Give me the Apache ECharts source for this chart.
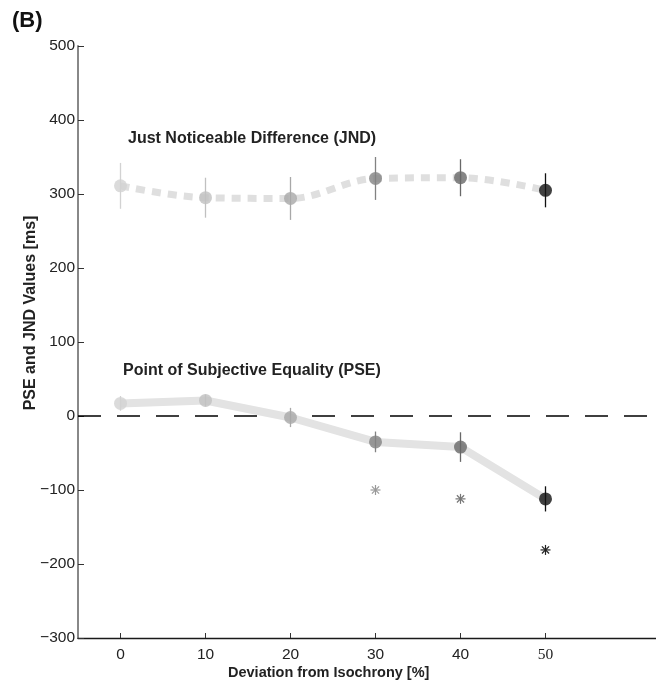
<!doctype html>
<html>
<head>
    <meta charset="utf-8">
    <title>PSE and JND</title>
    <script src="https://cdn.jsdelivr.net/npm/echarts@6/dist/echarts.min.js"></script>
    <style>
        html, body { margin: 0; padding: 0; background: #fff; }
        #main { width: 656px; height: 683px; }
    </style>
</head>
<body>
    <div id="main"></div>
    <script type="text/javascript">
        // deviation from isochrony [%]
        var deviation = [0, 10, 20, 30, 40, 50];
        // JND means and half error bars
        var jndMean = [311, 295, 294, 321, 322, 305];
        var jndErr = [31, 27, 29, 29, 25, 23];
        // PSE means and half error bars
        var pseMean = [17, 21, -2, -35, -42, -112];
        var pseErr = [10, 8, 13, 14, 20, 17];
        // significance asterisks (x, y)
        var starX = [30, 40, 50];
        var starY = [-100, -112, -181];
        // dashed reference line at 0
        var zeroX = [-5, 63];
        var zeroY = [0, 0];

        var shade = ['#d2d2d2', '#c0c0c0', '#a8a8a8', '#828282', '#686868', '#111111'];
        var starShade = ['#999999', '#777777', '#222222'];

        function pairs(xs, ys) {
            return xs.map(function (x, i) { return [x, ys[i]]; });
        }
        function bars(mean, err) {
            return deviation.map(function (x, i) { return [x, mean[i] - err[i], mean[i] + err[i]]; });
        }
        function dots(mean) {
            return deviation.map(function (x, i) {
                return { value: [x, mean[i]], itemStyle: { color: shade[i] } };
            });
        }

        function errRender(params, api) {
            var lo = api.coord([api.value(0), api.value(1)]);
            var hi = api.coord([api.value(0), api.value(2)]);
            return {
                type: 'line',
                shape: { x1: lo[0], y1: lo[1], x2: hi[0], y2: hi[1] },
                style: { stroke: shade[params.dataIndex], lineWidth: 1.3 }
            };
        }

        function starRender(params, api) {
            var c = api.coord([api.value(0), api.value(1)]);
            var r = 5, d = 3.6;
            var col = starShade[params.dataIndex];
            var st = { stroke: col, lineWidth: 1.2 };
            return {
                type: 'group',
                children: [
                    { type: 'line', shape: { x1: c[0], y1: c[1] - r, x2: c[0], y2: c[1] + r }, style: st },
                    { type: 'line', shape: { x1: c[0] - r, y1: c[1], x2: c[0] + r, y2: c[1] }, style: st },
                    { type: 'line', shape: { x1: c[0] - d, y1: c[1] - d, x2: c[0] + d, y2: c[1] + d }, style: st },
                    { type: 'line', shape: { x1: c[0] - d, y1: c[1] + d, x2: c[0] + d, y2: c[1] - d }, style: st }
                ]
            };
        }

        var myChart = echarts.init(document.getElementById('main'));
        var font = 'Liberation Sans, Arial, sans-serif';
        var option = {
            animation: false,
            textStyle: { fontFamily: font },
            grid: { left: 78, right: 0, top: 46, bottom: 45 },
            xAxis: {
                type: 'value',
                min: -5,
                max: 63,
                interval: 5,
                axisLine: { onZero: false, lineStyle: { color: '#1a1a1a', width: 1.3 } },
                axisTick: {
                    inside: true, length: 5,
                    lineStyle: { color: '#333', width: 1 },
                    customValues: deviation
                },
                axisLabel: {
                    color: '#222', fontSize: 15.5, margin: 9,
                    customValues: deviation,
                    formatter: function (v) { return v === 50 ? '{serif|50}' : String(v); },
                    rich: { serif: { fontFamily: 'Liberation Serif, serif', fontSize: 15.5, color: '#222' } }
                },
                splitLine: { show: false }
            },
            yAxis: {
                type: 'value',
                min: -300,
                max: 500,
                interval: 100,
                axisLine: { show: true, onZero: false, lineStyle: { color: '#888', width: 2 } },
                axisTick: { show: true, inside: true, length: 6, lineStyle: { color: '#333', width: 1 } },
                axisLabel: {
                    color: '#222', fontSize: 15.5, margin: 3,
                    formatter: function (v) { return v < 0 ? '\u2212' + (-v) : String(v); }
                },
                splitLine: { show: false }
            },
            graphic: [
                { type: 'text', left: 12, top: 10, style: { text: '(B)', font: 'bold 22px ' + font, fill: '#111' } },
                { type: 'text', left: 128, top: 131, style: { text: 'Just Noticeable Difference (JND)', font: 'bold 16px ' + font, fill: '#222' } },
                { type: 'text', left: 123, top: 363, style: { text: 'Point of Subjective Equality (PSE)', font: 'bold 16px ' + font, fill: '#222' } },
                { type: 'text', left: 228, top: 665, style: { text: 'Deviation from Isochrony [%]', font: 'bold 14.5px ' + font, fill: '#222' } },
                {
                    type: 'text', x: 31, y: 313, rotation: Math.PI / 2,
                    style: { text: 'PSE and JND Values [ms]', font: 'bold 16px ' + font, fill: '#222', align: 'center', verticalAlign: 'middle' }
                }
            ],
            series: [
                {
                    name: 'zero',
                    type: 'line',
                    data: pairs(zeroX, zeroY),
                    symbol: 'none',
                    silent: true,
                    lineStyle: { color: '#000', width: 1.4, type: [23, 16] },
                    z: 0
                },
                {
                    name: 'JND line',
                    type: 'line',
                    data: pairs(deviation, jndMean),
                    smooth: 0.35,
                    symbol: 'none',
                    lineStyle: { color: '#dfdfdf', width: 7, type: [9, 7] },
                    z: 1
                },
                {
                    name: 'PSE line',
                    type: 'line',
                    data: pairs(deviation, pseMean),
                    symbol: 'none',
                    lineStyle: { color: '#e3e3e3', width: 8 },
                    z: 1
                },
                { name: 'JND err', type: 'custom', renderItem: errRender, data: bars(jndMean, jndErr), z: 2 },
                { name: 'PSE err', type: 'custom', renderItem: errRender, data: bars(pseMean, pseErr), z: 2 },
                { name: 'JND', type: 'scatter', data: dots(jndMean), symbolSize: 13, z: 3 },
                { name: 'PSE', type: 'scatter', data: dots(pseMean), symbolSize: 13, z: 3 },
                { name: 'sig', type: 'custom', renderItem: starRender, data: pairs(starX, starY), z: 3 }
            ]
        };
        myChart.setOption(option);
    </script>
</body>
</html>
